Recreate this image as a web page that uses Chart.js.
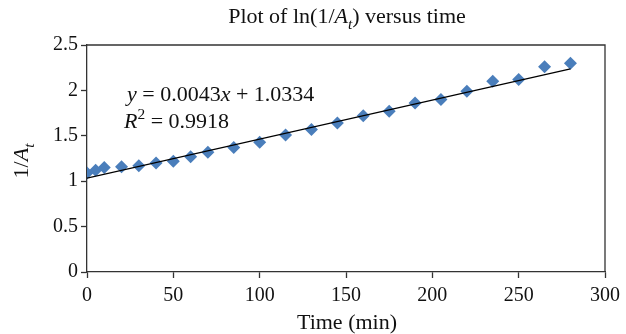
<!DOCTYPE html>
<html>
<head>
<meta charset="utf-8">
<script src="https://cdn.jsdelivr.net/npm/chart.js@4/dist/chart.umd.min.js"></script>
<style>
  html, body { margin: 0; padding: 0; background: #fff; }
  #wrap { width: 626px; height: 334px; }
</style>
</head>
<body>
<div id="wrap"><canvas id="grafica" width="626" height="334"></canvas></div>
<script>
const tiempos = [0, 5, 10, 20, 30, 40, 50, 60, 70, 85, 100, 115, 130, 145, 160, 175, 190, 205, 220, 235, 250, 265, 280];
const valores = [1.09, 1.12, 1.15, 1.16, 1.17, 1.20, 1.22, 1.27, 1.32, 1.37, 1.43, 1.51, 1.57, 1.64, 1.72, 1.77, 1.86, 1.90, 1.99, 2.10, 2.12, 2.26, 2.30];

// linea de tendencia (extremos)
const tendX = [0, 280];
const tendY = [1.0334, 2.2374];

const ticksX = [0, 50, 100, 150, 200, 250, 300];
const ticksY = [0, 0.5, 1, 1.5, 2, 2.5];

const SERIF = "'Liberation Serif', 'DejaVu Serif', serif";
const COLOR_EJE = "#333";

// dibuja texto con partes en cursiva / subindice / superindice
function textoRico(ctx, partes, x, y, size, align) {
    let ancho = 0;
    const medidas = partes.map(p => {
        const s = (p.sub || p.sup) ? size * 0.7 : size;
        ctx.font = (p.italic ? "italic " : "") + s + "px " + SERIF;
        const w = ctx.measureText(p.t).width;
        ancho += w;
        return { s, w };
    });
    let cx = align === "center" ? x - ancho / 2 : x;
    ctx.textBaseline = "alphabetic";
    ctx.textAlign = "left";
    partes.forEach((p, i) => {
        const m = medidas[i];
        ctx.font = (p.italic ? "italic " : "") + m.s + "px " + SERIF;
        let dy = 0;
        if (p.sub) dy = size * 0.25;
        if (p.sup) dy = -size * 0.4;
        ctx.fillText(p.t, cx, y + dy);
        cx += m.w;
    });
}

const decorado = {
    id: "decorado",
    afterDraw(chart) {
        const { ctx, chartArea } = chart;
        ctx.save();
        // marco superior y derecho
        ctx.strokeStyle = COLOR_EJE;
        ctx.lineWidth = 1.3;
        ctx.beginPath();
        ctx.moveTo(chartArea.left, chartArea.top);
        ctx.lineTo(chartArea.right, chartArea.top);
        ctx.lineTo(chartArea.right, chartArea.bottom);
        ctx.stroke();

        ctx.fillStyle = "#111";
        // titulo
        textoRico(ctx, [
            { t: "Plot of ln(1/" },
            { t: "A", italic: true },
            { t: "t", italic: true, sub: true },
            { t: ") versus time" }
        ], 347, 23, 22, "center");

        // titulo eje x
        textoRico(ctx, [{ t: "Time (min)" }], 347, 329, 22, "center");

        // titulo eje y
        ctx.save();
        ctx.translate(28, 161);
        ctx.rotate(-Math.PI / 2);
        textoRico(ctx, [
            { t: "1/" },
            { t: "A", italic: true },
            { t: "t", italic: true, sub: true }
        ], 0, 0, 22, "center");
        ctx.restore();

        // ecuacion y R2
        textoRico(ctx, [
            { t: "y", italic: true },
            { t: " = 0.0043" },
            { t: "x", italic: true },
            { t: " + 1.0334" }
        ], 127, 101, 22, "left");
        textoRico(ctx, [
            { t: "R", italic: true },
            { t: "2", sup: true },
            { t: " = 0.9918" }
        ], 124, 128, 22, "left");
        ctx.restore();
    }
};

const ctx = document.getElementById("grafica").getContext("2d");

new Chart(ctx, {
    type: "scatter",
    data: {
        datasets: [
            {
                label: "tendencia",
                type: "line",
                data: tendX.map((x, i) => ({ x, y: tendY[i] })),
                borderColor: "#000",
                borderWidth: 1.3,
                pointRadius: 0,
                fill: false,
                order: 0
            },
            {
                label: "1/At",
                data: tiempos.map((t, i) => ({ x: t, y: valores[i] })),
                pointStyle: "rectRot",
                pointRadius: 6.5,
                pointHoverRadius: 6.5,
                backgroundColor: "#4a7ebb",
                borderColor: "#4a7ebb",
                borderWidth: 0,
                order: 1
            }
        ]
    },
    options: {
        responsive: false,
        animation: false,
        layout: { padding: { left: 0, right: 19, top: 45, bottom: 0 } },
        plugins: {
            legend: { display: false },
            tooltip: { enabled: false }
        },
        scales: {
            x: {
                type: "linear",
                min: 0,
                max: 300,
                afterFit: s => { s.height = 62; },
                afterBuildTicks: s => { s.ticks = ticksX.map(v => ({ value: v })); },
                ticks: {
                    padding: 6,
                    color: "#111",
                    font: { family: SERIF, size: 20 },
                    callback: v => String(v)
                },
                grid: { drawOnChartArea: false, tickLength: 6, tickColor: COLOR_EJE, tickWidth: 1.3 },
                border: { display: true, color: COLOR_EJE, width: 1.3 }
            },
            y: {
                type: "linear",
                min: 0,
                max: 2.5,
                afterFit: s => { s.width = 87; },
                afterBuildTicks: s => { s.ticks = ticksY.map(v => ({ value: v })); },
                ticks: {
                    padding: 3,
                    color: "#111",
                    font: { family: SERIF, size: 20 },
                    callback: v => String(v)
                },
                grid: { drawOnChartArea: false, tickLength: 6, tickColor: COLOR_EJE, tickWidth: 1.3 },
                border: { display: true, color: COLOR_EJE, width: 1.3 }
            }
        }
    },
    plugins: [decorado]
});
</script>
</body>
</html>
